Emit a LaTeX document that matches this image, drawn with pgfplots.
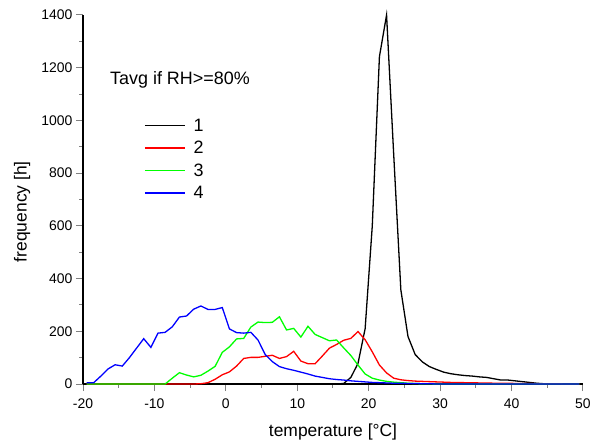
\documentclass[border=0pt]{standalone}
\usepackage{fontspec}
\setmainfont{Liberation Sans}
\usepackage{pgfplots}
\usepackage{pgfplotstable}
\pgfplotsset{compat=1.18}
\pgfplotstableread{
T black red green blue
-19.5 0 0 0 5
-18.5 0 0 0 5
-17.5 0 0 0 30
-16.5 0 0 0 57
-15.5 0 0 0 73
-14.5 0 0 0 68
-13.5 0 0 0 100
-12.5 0 0 0 136
-11.5 0 0 0 172
-10.5 0 0 0 139
-9.5 0 0 0 193
-8.5 0 0 0 196
-7.5 0 0 22 217
-6.5 0 0 43 254
-5.5 0 0 34 258
-4.5 0 0 27 284
-3.5 0 1 33 296
-2.5 0 5 49 283
-1.5 0 18 67 283
-0.5 0 35 120 290
0.5 0 46 141 209
1.5 0 68 171 195
2.5 0 97 173 193
3.5 0 101 216 196
4.5 0 101 235 167
5.5 0 105 233 112
6.5 0 109 234 85
7.5 0 97 255 66
8.5 0 104 205 58
9.5 0 124 211 52
10.5 0 87 178 45
11.5 0 77 219 38
12.5 0 77 188 30
13.5 0 106 176 25
14.5 0 136 164 20
15.5 0 150 167 17
16.5 2 166 137 15
17.5 25 173 108 12
18.5 78 199 72 10
19.5 210 168 38 8
20.5 600 122 22 6
21.5 1242 72 15 5
22.5 1400 42 10 4
23.5 870 22 7 3
24.5 357 16 5 3
25.5 180 13 3 2
26.5 112 11 2 2
27.5 84 10 1 1
28.5 66 9 1 1
29.5 55 8 0 0
30.5 45 7 0 0
31.5 39 6 0 0
32.5 35 6 0 0
33.5 32 5 0 0
34.5 30 5 0 0
35.5 27 4 0 0
36.5 25 4 0 0
37.5 20 3 0 0
38.5 15 3 0 0
39.5 15 3 0 0
40.5 12 2 0 0
41.5 9 2 0 0
42.5 6 2 0 0
43.5 3 1 0 0
44.5 1 1 0 0
45.5 0 1 0 0
46.5 0 1 0 0
47.5 0 0 0 0
48.5 0 0 0 0
49.5 0 0 0 0
}\datatable
\begin{document}
\begin{tikzpicture}
\path[use as bounding box] (-83bp,-60bp) rectangle (508bp,384bp);
\begin{axis}[
  at={(0,0)}, anchor=south west,
  scale only axis, width=500bp, height=369bp,
  xmin=-20, xmax=50, ymin=0, ymax=1400,
  axis lines*=left,
  axis line style={line width=1.4pt},
  tick align=outside,
  major tick length=7bp, minor tick length=3.5bp,
  tick style={line width=1pt},
  xtick={-20,-10,...,50}, minor xtick={-15,-5,...,45},
  ytick={0,200,...,1400}, minor ytick={100,300,...,1300},
  /pgf/number format/assume math mode=true,
  /pgf/number format/set thousands separator={},
  ticklabel style={font=\fontsize{14}{16}\selectfont},
  xticklabel style={yshift=-4bp},
  label style={font=\fontsize{17.5}{20}\selectfont},
  xlabel={temperature [°C]},
  ylabel={frequency [h]},
  xlabel style={at={(axis description cs:0.5,-0.13)}, anchor=center},
  ylabel style={at={(axis description cs:-0.122,0.467)}, anchor=center},
  clip=false,
  legend style={draw=none, fill=none, at={(axis description cs:0.116,0.73)}, anchor=north west,
    font=\fontsize{18}{20}\selectfont, row sep=4.5bp, column sep=6bp},
  legend image code/.code={\draw[mark repeat=2,mark phase=2,#1,line width=1.4pt] plot coordinates {(0bp,0bp) (20bp,0bp) (40bp,0bp)};},
  legend cell align=left,
]
\addplot[color=black, line width=1.3pt] table[x=T, y=black] {\datatable};
\addlegendentry{1}
\addplot[color=red, line width=1.3pt] table[x=T, y=red] {\datatable};
\addlegendentry{2}
\addplot[color=green, line width=1.3pt] table[x=T, y=green] {\datatable};
\addlegendentry{3}
\addplot[color=blue, line width=1.3pt] table[x=T, y=blue] {\datatable};
\addlegendentry{4}
\node[anchor=west, font=\fontsize{18}{20}\selectfont, inner sep=0pt] at (axis description cs:0.054,0.824) {Tavg if RH>=80\%};
\end{axis}
\end{tikzpicture}
\end{document}
